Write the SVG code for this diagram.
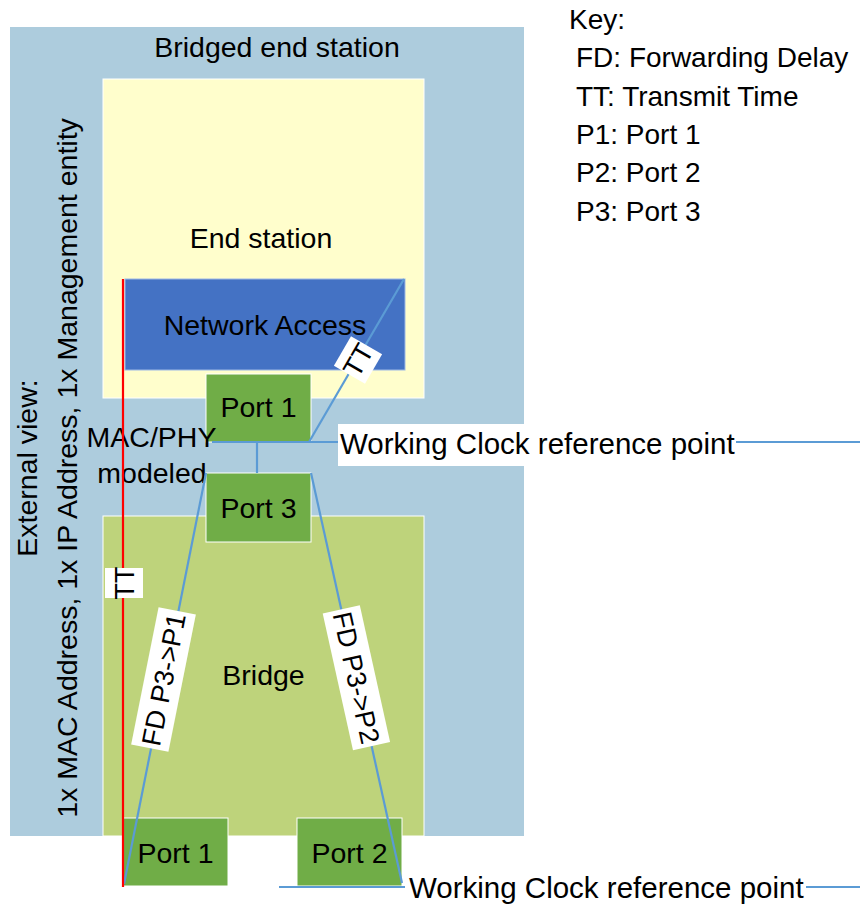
<svg xmlns="http://www.w3.org/2000/svg" width="863" height="905" viewBox="0 0 863 905">
<style>
text{font-family:"Liberation Sans",Arial,sans-serif;font-size:28.5px;fill:#000}
.port{fill:#70AD47;stroke:#fff;stroke-width:1}
.c{text-anchor:middle}
.blue{stroke:#5B9BD5;stroke-width:2.2;fill:none}
.lbl{fill:#fff}
.small{font-size:27px}
.key{font-size:28px}
</style>
<rect width="863" height="905" fill="#fff"/>
<g id="bridged-end-station">
<rect x="10" y="27" width="514" height="809" fill="#ADCCDD"/>
<text class="c" x="277" y="57">Bridged end station</text>
</g>
<g id="external-view">
<text class="c" transform="translate(37,468) rotate(-90)">External view:</text>
<text class="c" transform="translate(77,468) rotate(-90)">1x MAC Address, 1x IP Address, 1x Management entity</text>
</g>
<g id="end-station">
<rect x="103" y="79" width="321" height="319" fill="#FFFECC" stroke="#fff" stroke-width="1"/>
<text class="c" x="261" y="248">End station</text>
</g>
<g id="network-access">
<rect x="125" y="279" width="280" height="91" fill="#4472C4" stroke="#9DB8E6" stroke-width="1"/>
<text class="c" x="265" y="335">Network Access</text>
</g>
<g id="bridge">
<rect x="103" y="516" width="321" height="320" fill="#BED37B" stroke="#fff" stroke-width="1"/>
<text class="c" x="263.5" y="685">Bridge</text>
</g>
<g id="port1-end-station">
<rect class="port" x="206" y="374" width="105" height="68"/>
<text class="c" x="258.5" y="417">Port 1</text>
</g>
<g id="port3">
<rect class="port" x="206" y="473" width="105" height="69"/>
<text class="c" x="258.5" y="518">Port 3</text>
</g>
<g id="port1-bridge">
<rect class="port" x="123" y="818" width="105" height="68"/>
<text class="c" x="175.5" y="863">Port 1</text>
</g>
<g id="port2">
<rect class="port" x="297" y="818" width="105" height="68"/>
<text class="c" x="349.5" y="863">Port 2</text>
</g>
<g id="mac-phy">
<text class="c" x="151.5" y="447">MAC/PHY</text>
<text class="c" x="152" y="483">modeled</text>
</g>
<g id="connectors">
<line class="blue" x1="404" y1="279" x2="309" y2="442"/>
<line class="blue" x1="212" y1="442" x2="860" y2="442"/>
<line class="blue" x1="257" y1="442" x2="257" y2="473"/>
<line class="blue" x1="206" y1="473" x2="124" y2="884"/>
<line class="blue" x1="311" y1="473" x2="402" y2="883"/>
<line class="blue" x1="279" y1="887" x2="405" y2="887"/>
<line class="blue" x1="806" y1="887" x2="860" y2="887"/>
<line x1="123" y1="279" x2="123" y2="887" stroke="#FF0000" stroke-width="2.2"/>
</g>
<g id="labels">
<g transform="translate(358,360) rotate(-59.8)">
<rect class="lbl" x="-17" y="-18" width="34" height="36"/>
<text class="c small" x="0" y="9.5">TT</text>
</g>
<g transform="translate(124,583) rotate(-90)">
<rect class="lbl" x="-15" y="-19" width="30" height="38"/>
<text class="c small" x="0" y="9.5">TT</text>
</g>
<g transform="translate(163.5,679.5) rotate(-78.7)">
<rect class="lbl" x="-70" y="-19" width="140" height="38"/>
<text class="c small" x="0" y="9.5">FD P3-&gt;P1</text>
</g>
<g transform="translate(356.4,677.7) rotate(77.5)">
<rect class="lbl" x="-70" y="-19" width="140" height="38"/>
<text class="c small" x="0" y="9.5">FD P3-&gt;P2</text>
</g>
<g id="wc-top">
<rect class="lbl" x="338" y="424" width="398" height="42"/>
<text x="340" y="454" style="font-size:29.5px">Working Clock reference point</text>
</g>
<g id="wc-bottom">
<text x="409" y="898" style="font-size:29.5px">Working Clock reference point</text>
</g>
</g>
<g id="key">
<text class="key" x="569" y="29">Key:</text>
<text class="key" x="576" y="67">FD: Forwarding Delay</text>
<text class="key" x="576" y="105.5">TT: Transmit Time</text>
<text class="key" x="576" y="144">P1: Port 1</text>
<text class="key" x="576" y="182">P2: Port 2</text>
<text class="key" x="576" y="220.5">P3: Port 3</text>
</g>
</svg>
